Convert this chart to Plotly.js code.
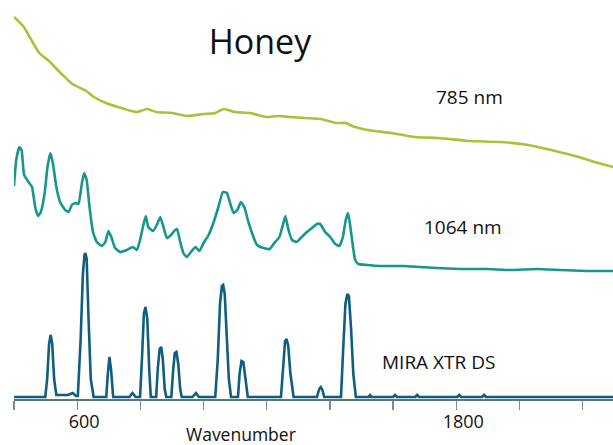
<!DOCTYPE html>
<html>
<head>
<meta charset="utf-8">
<script src="https://cdn.plot.ly/plotly-3.0.1.min.js"></script>
<style>html,body{margin:0;padding:0;background:#fff}#chart{width:613px;height:445px}</style>
</head>
<body>
<div id="chart"></div>
<script>
// Wavenumber (x) and relative intensity (y, arbitrary offset units)
const wn785 = [400,431,455,480,511,529,554,585,616,629,653,691,740,789,820,851,901,948,1000,1037,1064,1099,1148,1198,1235,1272,1321,1371,1420,1451,1470,1519,1594,1668,1742,1841,1940,2027,2113,2188,2249,2296];
const int785 = [382,372,359,346,338,332,324,315,310,308,302,296,291,287,290,287,286,283,285,286,290,287,286,282,283,282,281,280,276,276,273,269,266,262,261,258,257,254,248,242,236,232];

const wn1064 = [400,407,417,424,432,446,457,467,476,485,497,506,515,523,534,546,562,573,583,594,604,615,622,630,639,650,662,678,689,699,708,720,736,757,776,789,799,808,817,825,840,852,863,873,884,897,907,916,926,936,947,960,974,987,1000,1016,1031,1047,1061,1074,1084,1095,1107,1118,1129,1142,1158,1169,1190,1209,1224,1240,1251,1259,1269,1280,1295,1311,1327,1343,1359,1369,1385,1401,1417,1430,1441,1450,1457,1463,1473,1480,1490,1517,1559,1632,1686,1738,1812,1897,1970,2055,2129,2213,2296];
const int1064 = [213,239,252,249,224,217,212,192,183,187,206,232,246,236,212,197,189,187,194,196,195,216,226,219,192,167,157,153,157,168,162,151,147,149,152,149,159,172,183,172,168,174,182,172,161,164,168,170,157,146,142,147,152,148,156,164,176,192,207,206,196,186,189,197,192,177,162,154,151,150,156,162,174,183,169,159,157,162,167,171,175,175,167,162,155,153,162,179,186,176,152,139,135,134,133,133,132,131,130,130,129,130,129,128,128];

const wnMira = [400,499,505,511,516,521,527,534,545,570,586,596,602,611,618,623,626,630,636,643,652,692,697,702,707,714,765,775,785,799,805,811,816,822,828,833,850,855,861,866,871,877,882,898,904,909,914,920,926,931,965,976,985,1037,1045,1052,1058,1062,1067,1074,1080,1087,1109,1114,1120,1126,1132,1140,1245,1252,1258,1263,1268,1275,1285,1359,1366,1371,1376,1382,1435,1442,1449,1455,1460,1467,1474,1482,1522,1527,1532,1600,1606,1612,1670,1676,1682,1803,1809,1815,1882,1888,1894,2296];
const intMira = [2,2,20,55,64,55,20,4,4,4,6,3,3,60,125,144,146,140,80,20,2,2,25,42,30,2,2,6,2,2,40,85,92,80,30,2,2,30,50,52,40,10,2,2,30,46,47,35,10,2,2,6,2,2,40,95,113,114,105,60,20,2,2,25,38,37,20,2,2,35,58,60,53,25,2,2,10,12,9,2,2,50,95,105,103,70,25,2,2,4,2,2,4,2,2,4,2,2,4,2,2,4,2,2];

const tickVals = [400,600,800,1000,1200,1400,1600,1800,2000,2200];
const tickText = ['','600','','','','','','1800','',''];

const seriesLabels = ['785 nm','1064 nm','MIRA XTR DS'];
const chartTitle = 'Honey';
const xTitle = 'Wavenumber';

const FONT = 'Open Sans, Noto Sans, sans-serif';

const traces = [
  {x: wn785, y: int785, mode:'lines', line:{color:'#a9c23a', width:2.6, shape:'spline', smoothing:0.6}, hoverinfo:'skip'},
  {x: wn1064, y: int1064, mode:'lines', line:{color:'#17978b', width:2.6, shape:'spline', smoothing:0.4}, hoverinfo:'skip'},
  {x: wnMira, y: intMira, mode:'lines', line:{color:'#0f5d80', width:2.6}, hoverinfo:'skip'}
];

const layout = {
  width: 613, height: 445,
  margin: {l:14, r:0, t:0, b:46},
  paper_bgcolor:'#fff', plot_bgcolor:'#fff',
  showlegend:false,
  title: {text: chartTitle, x: 260/613, y: 1-42/445, xanchor:'center', yanchor:'middle', xref:'container', yref:'container',
          font:{family:FONT, size:34, color:'#111'}},
  xaxis: {range:[400,2296], tickmode:'array', tickvals:tickVals, ticktext:tickText,
          ticks:'outside', ticklen:9, tickwidth:1.3, tickcolor:'#7d8a90',
          showline:true, linecolor:'#5d7482', linewidth:1.6, showgrid:false, zeroline:false,
          ticklabelshift: 7, ticklabelstandoff: -3,
          tickfont:{family:FONT, size:18, color:'#111'}, fixedrange:true},
  yaxis: {range:[0,399], visible:false, fixedrange:true},
  annotations: [
    {text: seriesLabels[0], xref:'paper', yref:'paper', x:0.760, y:1-97/399, showarrow:false, xanchor:'center', yanchor:'middle', font:{family:FONT, size:19, color:'#111'}},
    {text: seriesLabels[1], xref:'paper', yref:'paper', x:0.750, y:1-227/399, showarrow:false, xanchor:'center', yanchor:'middle', font:{family:FONT, size:19, color:'#111'}},
    {text: seriesLabels[2], xref:'paper', yref:'paper', x:0.7095, y:1-362/399, showarrow:false, xanchor:'center', yanchor:'middle', font:{family:FONT, size:19, color:'#111'}},
    {text: xTitle, xref:'paper', yref:'paper', x:(241-14)/599, y:(399-434)/399, showarrow:false, xanchor:'center', yanchor:'middle', borderpad:0, font:{family:FONT, size:17.5, color:'#111'}}
  ]
};

Plotly.newPlot('chart', traces, layout, {staticPlot:true, displayModeBar:false});
</script>
</body>
</html>
